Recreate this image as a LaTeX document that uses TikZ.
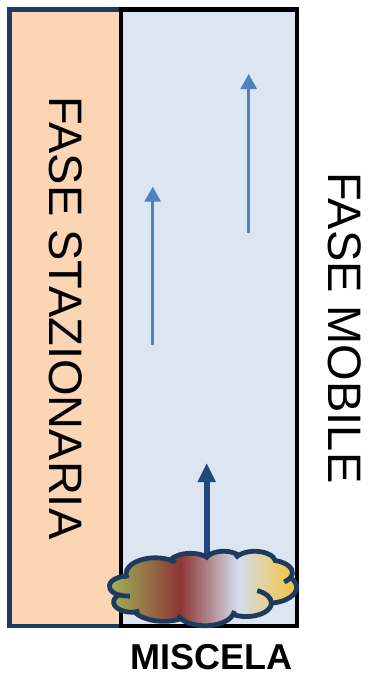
\documentclass[tikz,border=0pt]{standalone}
\usepackage{fontspec}
\setmainfont{Liberation Sans}
\usetikzlibrary{positioning, arrows.meta}

\definecolor{stazfill}{HTML}{FCD5B5}
\definecolor{mobfill}{HTML}{DCE6F2}
\definecolor{navy}{HTML}{1F3A5F}
\definecolor{flowblue}{HTML}{4F81BD}
\definecolor{flowdark}{HTML}{1F497D}
\definecolor{mixgreen}{HTML}{9DB95A}
\definecolor{mixred}{HTML}{8E3535}
\definecolor{mixblue}{HTML}{D3DEEC}
\definecolor{mixyellow}{HTML}{F6C22C}

% colours of the sample, left to right (the middle 50bp cover the cloud)
\pgfdeclarehorizontalshading{mixture}{100bp}{%
  color(0bp)=(mixgreen); color(25bp)=(mixgreen); color(44bp)=(mixred);
  color(59bp)=(mixblue); color(75bp)=(mixyellow); color(100bp)=(mixyellow)}

% cloud lobes: angles are measured on the ellipse as drawn,
% turn them into the parameter angles that arc wants
\newcommand\lobeangles[4]{%
  \pgfmathparse{atan2(#1*sin(#3),#2*cos(#3))}\xdef\lobest{\pgfmathresult}%
  \pgfmathparse{atan2(#1*sin(#3+#4),#2*cos(#3+#4))-\lobest}\xdef\lobedl{\pgfmathresult}%
  \pgfmathparse{\lobedl+360*round((#4-\lobedl)/360)}\xdef\lobedl{\pgfmathresult}%
}

\begin{document}
\begin{tikzpicture}[
    x=1pt, y=-1pt,
    column/.style={draw=#1, line width=4.3pt, minimum width=616.5pt, minimum height=111.5pt, inner sep=0pt},
    phase/.style={font=\fontsize{47}{47}\selectfont, rotate=-90},
    flow/.style={-{Triangle[length=15pt, width=16pt]}, line width=2.7pt, flowblue},
    push/.style={-{Triangle[length=19pt, width=17pt]}, line width=6pt, flowdark},
    cloud/.style={draw=navy, line width=4.8pt, line join=round},
  ]
  \useasboundingbox (0,0) rectangle (368,675);

  % ---- Columns ----
  \node[column=navy, fill=stazfill, phase] (staz) at (65.25,317.75) {FASE STAZIONARIA};
  \node[column=black, fill=mobfill, rotate=-90, minimum width=616.5pt, minimum height=176pt] (mob) at (209,317.75) {};
  \node[phase] (moblbl) at (345,328) {FASE MOBILE};

  % ---- Flow of the mobile phase ----
  \coordinate (f1a) at (152.7,345);
  \coordinate (f1b) at (152.7,186.7);
  \coordinate (f2a) at (248.7,233);
  \coordinate (f2b) at (248.7,74);
  \draw[flow] (f1a) -- (f1b);
  \draw[flow] (f2a) -- (f2b);

  \coordinate (inj) at (206.7,575);
  \coordinate (injtip) at (206.7,463);
  \draw[push] (inj) -- (injtip);

  % ---- Sample cloud ----
  \begin{scope}[shift={(109.5,551)}, x=0.433pt, y=-0.1725pt]
    \path[cloud, shading=mixture] (39.00,143.70)
      \foreach \rx/\ry/\st/\sw in {67.53/91.90/-190.4875/123.7805, 53.33/72.67/-144.1024/89.9452,
          43.65/59.45/-145.8079/99.7230, 48.57/65.95/-130.9861/117.2417,
          53.33/72.73/-78.7089/109.0269, 67.75/92.20/-46.2673/130.2690,
          57.85/78.67/0.6250/114.0333, 67.52/92.15/22.4516/115.1726,
          77.20/105.43/66.2426/75.7110, 43.60/59.18/-274.9421/146.7356,
          43.45/59.45/-246.8285/152.5189}
        {\pgfextra{\lobeangles{\rx}{\ry}{\st}{\sw}}
         arc[start angle=\lobest, delta angle=\lobedl, x radius=\rx, y radius=\ry]}
      -- cycle;
    % inner folds
    \draw[cloud]
      \foreach \px/\py/\rx/\ry/\st/\sw in {46.93/261.77/43.45/59.45/86.7420/26.4295,
          69.28/348.99/43.60/59.18/73.6105/11.4475, 164.78/390.90/67.52/92.15/137.6242/14.0811,
          288.27/347.51/67.52/92.15/6.4533/15.9984, 341.29/229.54/57.85/78.67/-70.2924/70.9174,
          417.98/153.54/53.33/72.73/30.3180/27.7515, 383.24/54.26/48.57/65.95/-13.7443/14.8589,
          290.78/39.52/48.57/65.95/-149.1815/18.1954, 221.41/47.20/43.65/59.45/-163.4943/17.6864,
          140.00/51.92/67.53/91.90/-66.7070/12.3194, 41.27/157.89/67.53/91.90/157.6544/11.8582}
        {(\px,\py) \pgfextra{\lobeangles{\rx}{\ry}{\st}{\sw}}
         arc[start angle=\lobest, delta angle=\lobedl, x radius=\rx, y radius=\ry]};
  \end{scope}

  % ---- Label ----
  \node[font=\bfseries\fontsize{36}{36}\selectfont, inner sep=0pt, below=16pt of mob.east, xshift=2.5pt] (mix) {MISCELA};

\end{tikzpicture}
\end{document}
